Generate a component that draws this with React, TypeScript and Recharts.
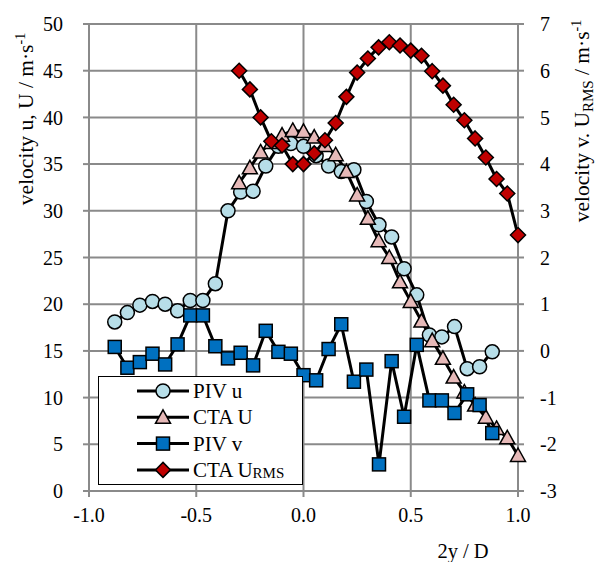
import React from 'react';
import { ComposedChart, Line, XAxis, YAxis, CartesianGrid, Legend } from 'recharts';

// PIV profile: normalised position 2y/D, streamwise u and transverse v
const pivPos = [
  -0.88, -0.821, -0.763, -0.704, -0.645, -0.587, -0.528, -0.469, -0.411, -0.352, -0.293,
  -0.235, -0.176, -0.117, -0.059, 0.0, 0.059, 0.117, 0.176, 0.235, 0.293, 0.352, 0.411,
  0.469, 0.528, 0.587, 0.645, 0.704, 0.763, 0.821, 0.88,
];
const pivU = [
  18.1, 19.1, 19.9, 20.3, 20.0, 19.3, 20.4, 20.4, 22.2, 30.0, 32.0, 32.1, 34.8, 36.9, 37.2,
  36.9, 35.9, 34.8, 34.2, 34.4, 31.0, 28.5, 27.2, 23.8, 21.0, 16.7, 16.5, 17.6, 13.1, 13.3, 14.9,
];
const pivV = [
  0.085, -0.36, -0.24, -0.06, -0.29, 0.14, 0.76, 0.76, 0.1, -0.16, -0.04, -0.31, 0.43, -0.02,
  -0.06, -0.52, -0.63, 0.04, 0.57, -0.66, -0.4, -2.43, -0.22, -1.41, 0.13, -1.06, -1.06, -1.33,
  -0.93, -1.16, -1.76,
];

// CTA traverse: mean U and U_RMS
const ctaPos = [
  -0.3, -0.25, -0.2, -0.15, -0.1, -0.05, 0.0, 0.05, 0.1, 0.15, 0.2, 0.25, 0.3, 0.35, 0.4, 0.45,
  0.5, 0.55, 0.6, 0.65, 0.7, 0.75, 0.8, 0.85, 0.9, 0.95, 1.0,
];
const ctaU = [
  33.0, 34.6, 36.3, 37.3, 38.1, 38.6, 38.5, 37.9, 37.0, 36.0, 34.2, 31.7, 29.2, 26.8, 25.0, 22.4,
  20.3, 18.2, 16.1, 14.2, 12.2, 10.6, 9.2, 7.9, 6.7, 5.7, 3.8,
];
const ctaRms = [
  6.0, 5.6, 5.0, 4.49, 4.4, 4.0, 4.0, 4.23, 4.51, 4.88, 5.44, 5.96, 6.26, 6.5, 6.61, 6.54, 6.43,
  6.32, 5.99, 5.68, 5.27, 4.94, 4.55, 4.14, 3.68, 3.37, 2.48,
];

const xTicks = [-1, -0.5, 0, 0.5, 1];
const leftTicks = [0, 5, 10, 15, 20, 25, 30, 35, 40, 45, 50];
const rightTicks = [-3, -2, -1, 0, 1, 2, 3, 4, 5, 6, 7];

const pivUData = pivPos.map((pos, i) => ({ pos, value: pivU[i] }));
const pivVData = pivPos.map((pos, i) => ({ pos, value: pivV[i] }));
const ctaUData = ctaPos.map((pos, i) => ({ pos, value: ctaU[i] }));
const ctaRmsData = ctaPos.map((pos, i) => ({ pos, value: ctaRms[i] }));

const FONT = 'Liberation Serif, Times New Roman, DejaVu Serif, serif';
const GRID = '#8a8a8a';

type MarkProps = { cx?: number; cy?: number };

const CircleMark = ({ cx = 0, cy = 0 }: MarkProps) => (
  <circle cx={cx} cy={cy} r={7} fill="#b7dee8" stroke="#000" strokeWidth={1.5} />
);
const TriangleMark = ({ cx = 0, cy = 0 }: MarkProps) => (
  <path
    d={`M${cx},${cy - 7.5} L${cx + 7.5},${cy + 6} L${cx - 7.5},${cy + 6} Z`}
    fill="#e6b9b8"
    stroke="#000"
    strokeWidth={1.5}
  />
);
const SquareMark = ({ cx = 0, cy = 0 }: MarkProps) => (
  <rect x={cx - 6.5} y={cy - 6.5} width={13} height={13} fill="#0070c0" stroke="#000" strokeWidth={1.5} />
);
const DiamondMark = ({ cx = 0, cy = 0 }: MarkProps) => (
  <path
    d={`M${cx},${cy - 7.5} L${cx + 7.5},${cy} L${cx},${cy + 7.5} L${cx - 7.5},${cy} Z`}
    fill="#c00000"
    stroke="#000"
    strokeWidth={1.5}
  />
);

const series = [
  { key: 'pivU', name: 'PIV u', sub: '', data: pivUData, axis: 'left', Mark: CircleMark },
  { key: 'ctaU', name: 'CTA U', sub: '', data: ctaUData, axis: 'left', Mark: TriangleMark },
  { key: 'pivV', name: 'PIV v', sub: '', data: pivVData, axis: 'right', Mark: SquareMark },
  { key: 'ctaRms', name: 'CTA U', sub: 'RMS', data: ctaRmsData, axis: 'right', Mark: DiamondMark },
];

const textStyle: React.CSSProperties = { fontFamily: FONT };

const LegendBox = () => (
  <div
    style={{
      width: 205,
      height: 109,
      boxSizing: 'border-box',
      border: '1.5px solid #000',
      background: '#fff',
    }}
  >
    <svg width={202} height={106} style={{ display: 'block' }}>
      {series.map((s, i) => {
        const cy = 14 + i * 26.3;
        const M = s.Mark;
        return (
          <g key={s.key}>
            <line x1={38} x2={90} y1={cy} y2={cy} stroke="#000" strokeWidth={3} />
            <M cx={64} cy={cy} />
            <text x={94} y={cy + 7} style={textStyle} fontSize={21} fill="#000">
              {s.name}
              {s.sub ? (
                <tspan fontSize={15} dy={1}>
                  {s.sub}
                </tspan>
              ) : null}
            </text>
          </g>
        );
      })}
    </svg>
  </div>
);

const LeftTitle = () => (
  <text
    x={33}
    y={119}
    transform="rotate(-90, 33, 119)"
    textAnchor="middle"
    style={textStyle}
    fontSize={21.5}
    fill="#000"
  >
    velocity  u, U / m·s
    <tspan fontSize={14} dy={-8}>
      -1
    </tspan>
  </text>
);

const RightTitle = () => (
  <text
    x={589}
    y={121}
    transform="rotate(-90, 589, 121)"
    textAnchor="middle"
    style={textStyle}
    fontSize={21.5}
    fill="#000"
  >
    velocity v. U
    <tspan fontSize={15} dy={4}>
      RMS
    </tspan>
    <tspan dy={-4}> / m·s</tspan>
    <tspan fontSize={14} dy={-8}>
      -1
    </tspan>
  </text>
);

const BottomTitle = () => (
  <text x={463} y={558} textAnchor="middle" style={textStyle} fontSize={20.5} fill="#000">
    2y / D
  </text>
);

const tickStyle = { fontFamily: FONT, fontSize: 20, fill: '#000', style: textStyle };

export default function App() {
  return (
    <div style={{ position: 'absolute', left: 0, top: 0, background: '#fff', fontFamily: FONT }}>
      <ComposedChart
        width={596}
        height={562}
        margin={{ top: 24, right: 0, bottom: 0, left: 0 }}
        style={{ background: '#fff', fontFamily: FONT }}
      >
        <CartesianGrid
          yAxisId="left"
          stroke={GRID}
          strokeWidth={2}
          horizontalValues={leftTicks}
          verticalValues={xTicks}
        />
        <XAxis
          type="number"
          dataKey="pos"
          domain={[-1, 1]}
          ticks={xTicks}
          tickFormatter={(v: number) => v.toFixed(1)}
          height={71}
          tick={tickStyle}
          tickSize={6}
          tickMargin={11}
          axisLine={{ stroke: GRID, strokeWidth: 2 }}
          tickLine={{ stroke: GRID, strokeWidth: 2 }}
          allowDuplicatedCategory={false}
          label={() => <BottomTitle />}
        />
        <YAxis
          yAxisId="left"
          orientation="left"
          domain={[0, 50]}
          ticks={leftTicks}
          width={89}
          tick={tickStyle}
          tickSize={6}
          tickMargin={20}
          axisLine={{ stroke: GRID, strokeWidth: 2 }}
          tickLine={{ stroke: GRID, strokeWidth: 2 }}
          label={() => <LeftTitle />}
        />
        <YAxis
          yAxisId="right"
          orientation="right"
          domain={[-3, 7]}
          ticks={rightTicks}
          width={78}
          tick={tickStyle}
          tickSize={6}
          tickMargin={16}
          axisLine={{ stroke: GRID, strokeWidth: 2 }}
          tickLine={{ stroke: GRID, strokeWidth: 2 }}
          label={() => <RightTitle />}
        />
        {series.map((s) => {
          const M = s.Mark;
          return (
            <Line
              key={s.key}
              yAxisId={s.axis}
              data={s.data}
              dataKey="value"
              name={s.sub ? s.name + s.sub : s.name}
              type="linear"
              stroke="#000"
              strokeWidth={3}
              isAnimationActive={false}
              activeDot={false}
              dot={(p: any) => <M key={`${s.key}-${p.index}`} cx={p.cx} cy={p.cy} />}
            />
          );
        })}
        <Legend
          layout="vertical"
          align="center"
          verticalAlign="middle"
          wrapperStyle={{ left: 98, top: 376, width: 205, height: 109 }}
          content={() => <LegendBox />}
        />
      </ComposedChart>
    </div>
  );
}
